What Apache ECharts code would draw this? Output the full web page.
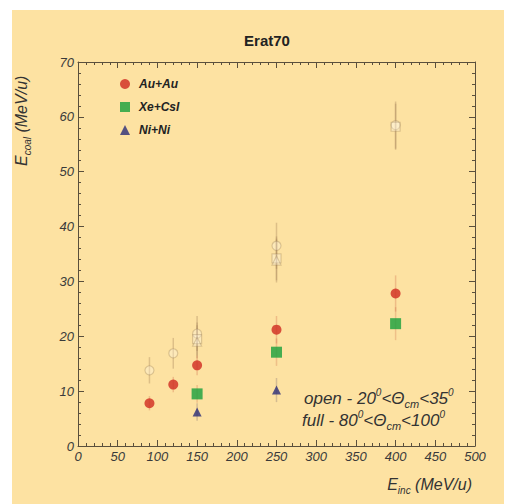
<!DOCTYPE html>
<html><head><meta charset="utf-8">
<script src="https://cdn.jsdelivr.net/npm/echarts@6/dist/echarts.min.js"></script>
<style>
html,body{margin:0;padding:0;background:#fff;width:507px;height:504px;overflow:hidden}
#c{position:absolute;left:12px;top:10px;width:492px;height:494px;background:#fde2a2}
</style></head><body><div id="c"></div>
<script>
// ---- data ----
const xTicks = [0,50,100,150,200,250,300,350,400,450,500];
const yTicks = [0,10,20,30,40,50,60,70];
const seriesNames = ['Au+Au','Xe+CsI','Ni+Ni'];
// full symbols: 80°<θcm<100°
const auE = [90,120,150,250,400];
const auVal = [7.8,11.2,14.7,21.2,27.8];
const auErr = [1.3,1.4,1.8,2.5,3.3];
const xeE = [150,250,400];
const xeVal = [9.5,17.1,22.3];
const xeErr = [1.6,2.5,3.0];
const niE = [150,250];
const niVal = [6.2,10.2];
const niErr = [1.6,2.2];
// open symbols: 20°<θcm<35°
const openAuE = [90,120,150,250,400];
const openAuVal = [13.8,16.9,20.5,36.5,58.5];
const openAuErr = [2.4,2.8,3.2,4.2,4.3];
const openXeE = [150,250,400];
const openXeVal = [19.5,34.2,58.2];
const openXeErr = [3.0,4.0,4.2];
const openNiE = [150,250];
const openNiVal = [19.0,33.8];
const openNiErr = [3.0,4.0];

const colors = {au:'#cf2a20', xe:'#17a03c', ni:'#2b2d78'};
const font = 'Liberation Sans, Arial, sans-serif';
const axisColor = '#5a4f3c';

function pts(xs, ys){ return xs.map((x,i)=>[x, ys[i]]); }
function errs(xs, ys, es){ return xs.map((x,i)=>[x, ys[i]-es[i], ys[i]+es[i]]); }

function errSeries(data, color, width){
  return {
    type:'custom', silent:true, z:1,
    data: data,
    encode:{x:0, y:[1,2]},
    renderItem:function(params, api){
      const lo = api.coord([api.value(0), api.value(1)]);
      const hi = api.coord([api.value(0), api.value(2)]);
      return {type:'line', shape:{x1:lo[0],y1:lo[1],x2:hi[0],y2:hi[1]},
        style:{stroke:color, lineWidth:width}};
    }
  };
}

const openStyle = {color:'rgba(255,248,232,0.4)', borderColor:'rgba(150,120,80,0.4)', borderWidth:1.2};

const chart = echarts.init(document.getElementById('c'), null, {renderer:'svg'});
function ax(extra){
  return Object.assign({
    type:'value',
    axisLine:{show:true, onZero:false, lineStyle:{color:axisColor, width:1}},
    axisTick:{show:true, inside:true, length:6, lineStyle:{color:axisColor}},
    axisLabel:{show:false},
    splitLine:{show:false}
  }, extra);
}
function minorAx(extra){
  return ax(Object.assign({axisLine:{show:false, onZero:false}, axisTick:{show:true, inside:true, length:3, lineStyle:{color:axisColor}}}, extra));
}
const labelStyle = {show:true, fontFamily:font, fontSize:13, fontStyle:'italic', color:'#3a3a3a', margin:4};
const rich = (fs, sfs) => ({
  i:{fontFamily:font, fontSize:fs, fontStyle:'italic', fill:'#333', lineHeight:22, verticalAlign:'middle'},
  s:{fontFamily:font, fontSize:sfs, fontStyle:'italic', fill:'#333', lineHeight:22, verticalAlign:'bottom'},
  p:{fontFamily:font, fontSize:sfs-1, fontStyle:'italic', fill:'#333', lineHeight:22, verticalAlign:'top'}
});
chart.setOption({
  animation:false,
  backgroundColor:'transparent',
  title:{text:'Erat70', left:250, top:18, textAlign:'center',
    textStyle:{fontFamily:font, fontSize:15, fontWeight:'bold', color:'#222'}},
  legend:{
    data: seriesNames.map((n,i)=>({name:n, icon:['circle','rect','triangle'][i]})),
    orient:'vertical', left:103, top:63, itemWidth:10, itemHeight:10, itemGap:11,
    textStyle:{fontFamily:font, fontSize:12, fontWeight:'bold', fontStyle:'italic', color:'#222', padding:[0,0,0,4]}
  },
  grid:{left:66, top:52, width:397, height:384},
  xAxis:[
    ax({min:xTicks[0], max:xTicks[xTicks.length-1], interval:50, position:'bottom',
      axisLabel:Object.assign({}, labelStyle, {formatter:v=>xTicks.includes(v)?String(v):''})}),
    ax({min:0, max:500, interval:50, position:'top'}),
    minorAx({min:0, max:500, interval:10, position:'bottom'}),
    minorAx({min:0, max:500, interval:10, position:'top'})
  ],
  yAxis:[
    ax({min:yTicks[0], max:yTicks[yTicks.length-1], interval:10, position:'left',
      axisLabel:Object.assign({}, labelStyle, {formatter:v=>yTicks.includes(v)?String(v):''})}),
    ax({min:0, max:70, interval:10, position:'right'}),
    minorAx({min:0, max:70, interval:2, position:'left'}),
    minorAx({min:0, max:70, interval:2, position:'right'})
  ],
  graphic:[
    {type:'text', x:9, y:156, rotation:Math.PI/2,
      style:{text:'{i|E}{s|coal}{i| (MeV/u)}', fill:'#333', verticalAlign:'middle', rich:rich(16,10)}},
    {type:'text', x:460, y:474,
      style:{text:'{i|E}{s|inc}{i| (MeV/u)}', align:'right', verticalAlign:'middle', fill:'#333', rich:rich(16,10)}},
    {type:'text', x:292, y:388,
      style:{text:'{i|open - 20}{p|0}{i|<\u0398}{s|cm}{i|<35}{p|0}', fill:'#333', verticalAlign:'middle', rich:rich(17,11)}},
    {type:'text', x:290, y:410,
      style:{text:'{i|full - 80}{p|0}{i|<\u0398}{s|cm}{i|<100}{p|0}', fill:'#333', verticalAlign:'middle', rich:rich(17,11)}}
  ],
  series:[
    errSeries(errs(openAuE, openAuVal, openAuErr), 'rgba(160,125,85,0.35)', 1.5),
    errSeries(errs(openXeE, openXeVal, openXeErr), 'rgba(160,125,85,0.35)', 1.5),
    errSeries(errs(openNiE, openNiVal, openNiErr), 'rgba(160,125,85,0.35)', 1.5),
    errSeries(errs(auE, auVal, auErr), 'rgba(200,90,60,0.28)', 1.5),
    errSeries(errs(xeE, xeVal, xeErr), 'rgba(200,90,60,0.25)', 1.5),
    errSeries(errs(niE, niVal, niErr), 'rgba(120,100,110,0.3)', 1.5),
    {name:'open Au+Au', type:'scatter', symbol:'circle', symbolSize:9, z:3, itemStyle:openStyle, data:pts(openAuE, openAuVal)},
    {name:'open Xe+CsI', type:'scatter', symbol:'rect', symbolSize:9, z:3, itemStyle:openStyle, data:pts(openXeE, openXeVal)},
    {name:'open Ni+Ni', type:'scatter', symbol:'triangle', symbolSize:9, z:3, itemStyle:openStyle, data:pts(openNiE, openNiVal)},
    {name:'Au+Au', type:'scatter', symbol:'circle', symbolSize:10, z:4, itemStyle:{color:colors.au}, data:pts(auE, auVal)},
    {name:'Xe+CsI', type:'scatter', symbol:'rect', symbolSize:11, z:4, itemStyle:{color:colors.xe}, data:pts(xeE, xeVal)},
    {name:'Ni+Ni', type:'scatter', symbol:'triangle', symbolSize:9, z:4, itemStyle:{color:colors.ni}, data:pts(niE, niVal)}
  ]
});
</script></body></html>
